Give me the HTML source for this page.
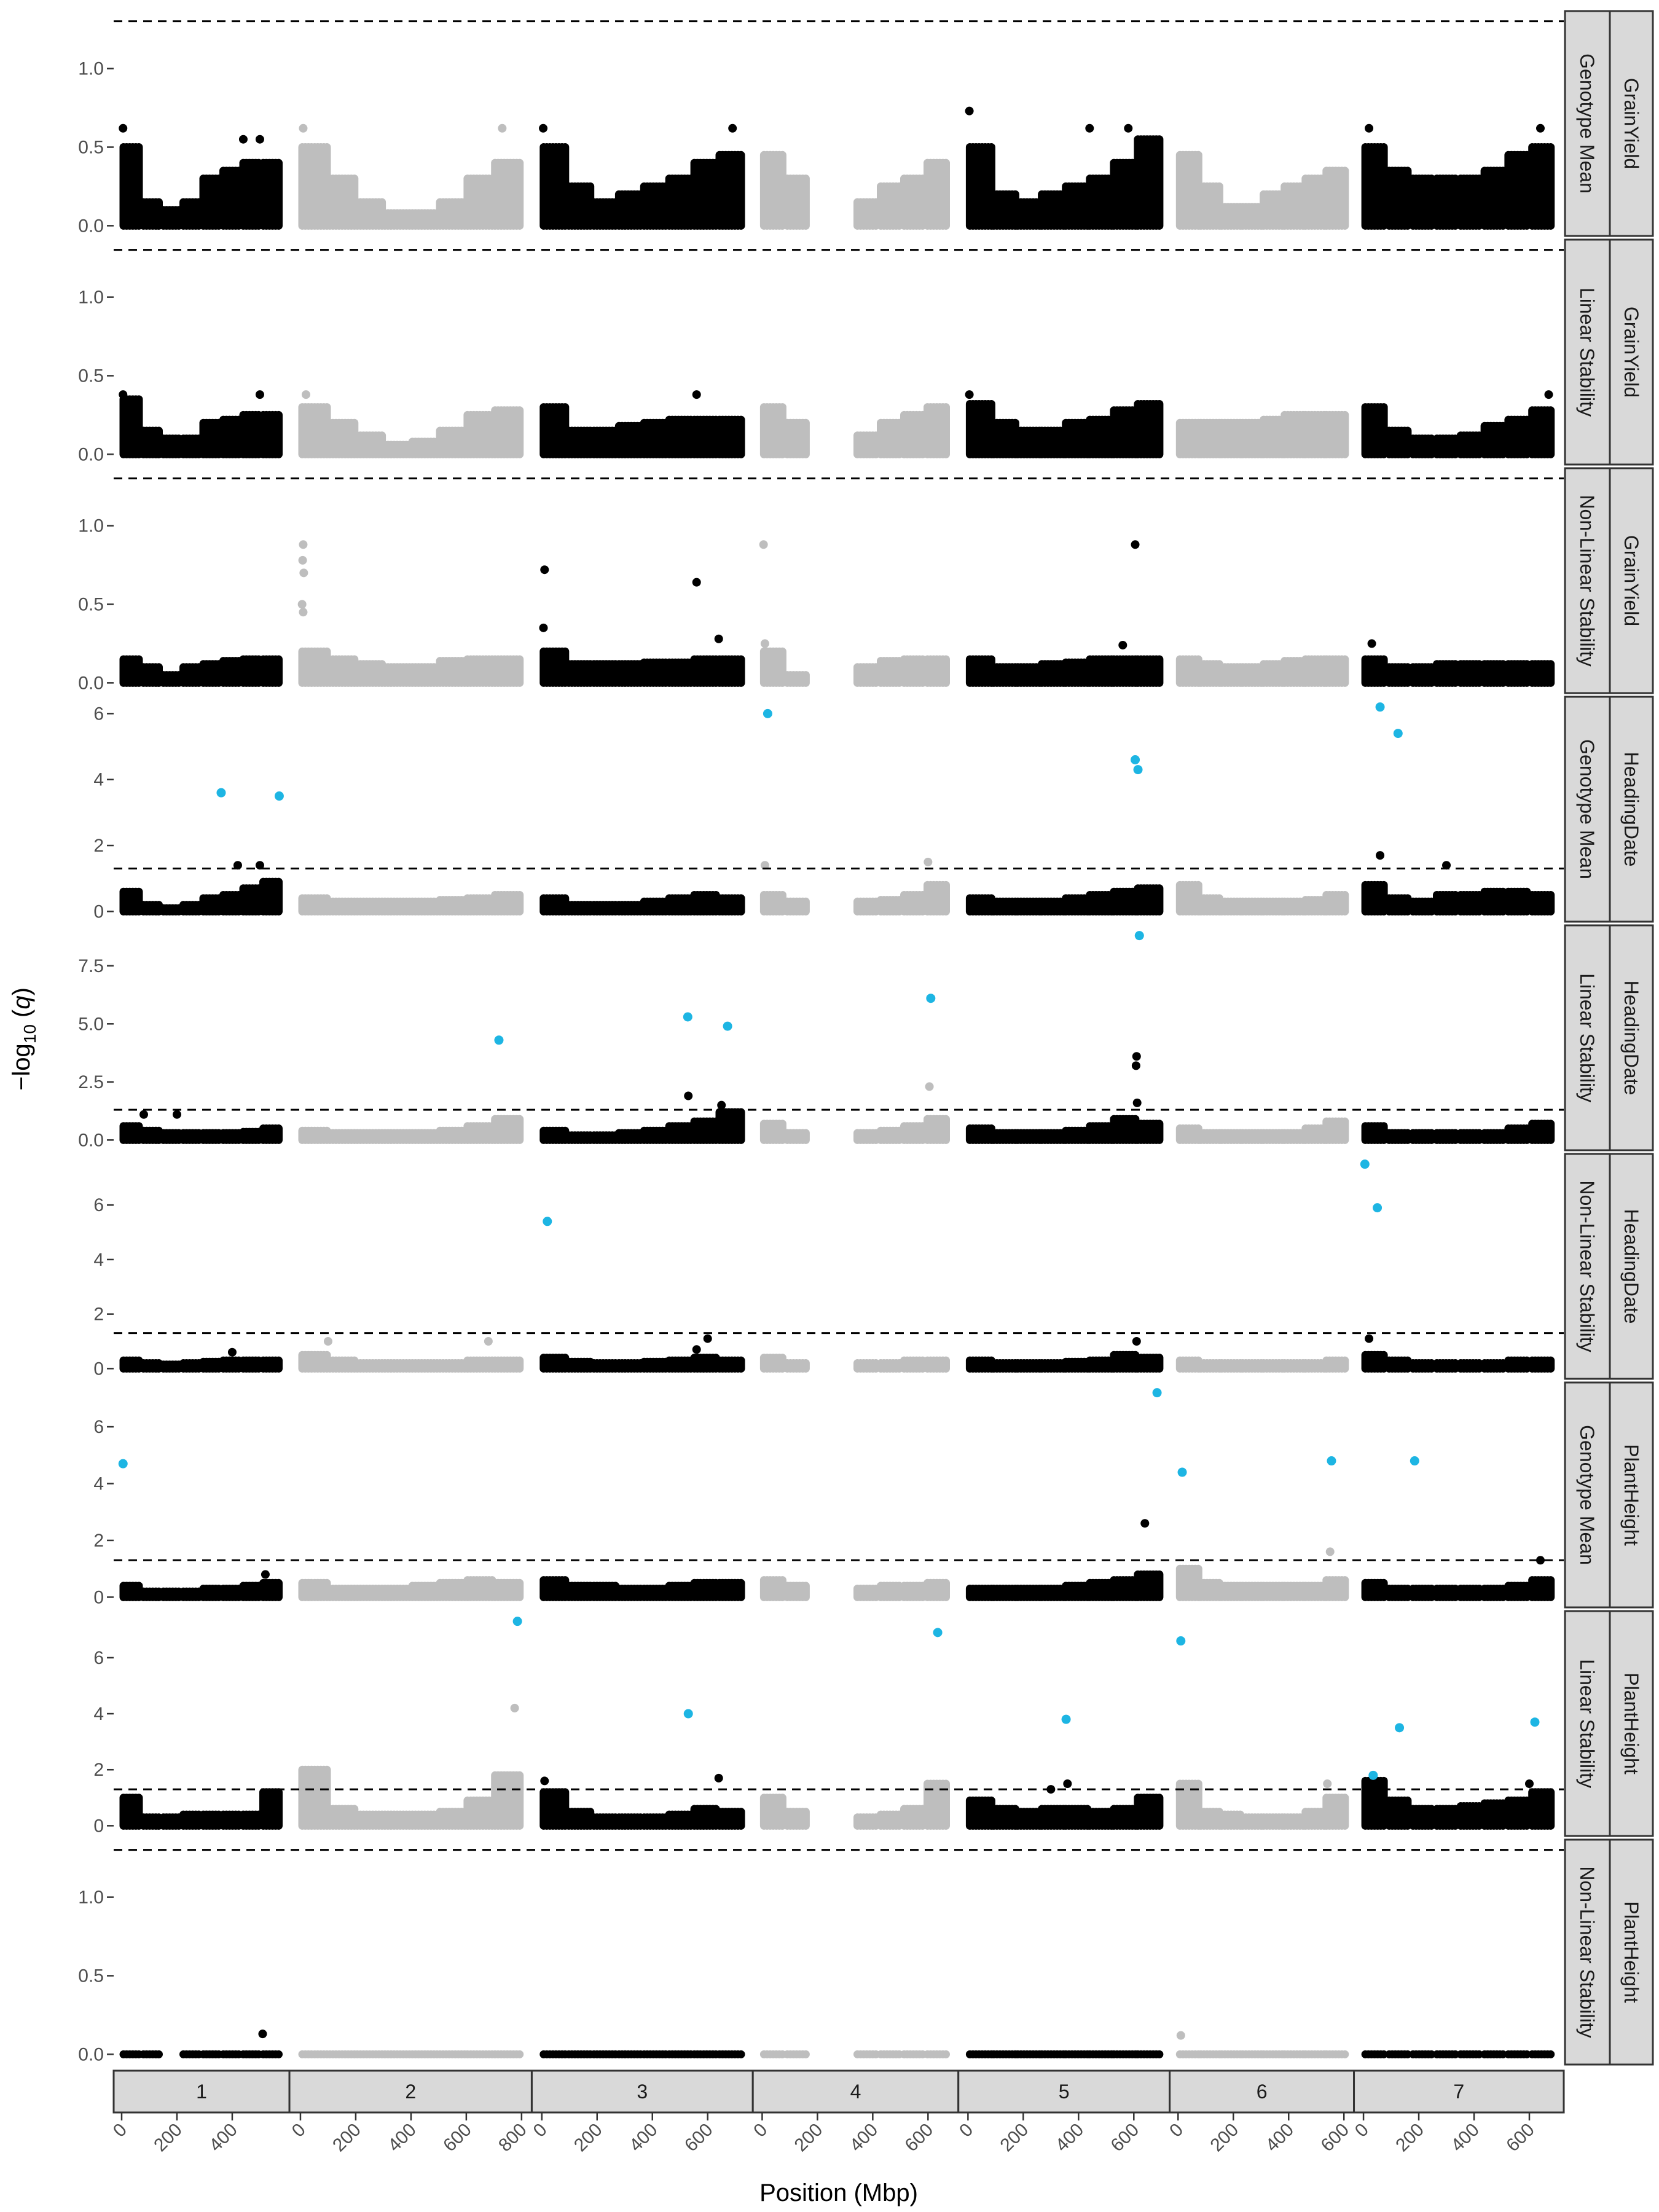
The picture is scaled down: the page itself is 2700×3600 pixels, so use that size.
<!DOCTYPE html>
<html><head><meta charset="utf-8">
<style>
html,body{margin:0;padding:0;background:#fff;}
svg{display:block;font-family:"Liberation Sans",Arial,sans-serif;}
</style></head>
<body>
<svg id="chart" width="2700" height="3600" viewBox="0 0 2700 3600" xmlns="http://www.w3.org/2000/svg">
<text x="1365" y="3582" font-size="40" fill="#000" text-anchor="middle">Position (Mbp)</text>
<text transform="translate(48,1691) rotate(-90)" font-size="40" fill="#000" text-anchor="middle">−log<tspan font-size="28" dy="10">10</tspan><tspan dy="-10"> (</tspan><tspan font-style="italic">q</tspan>)</text>
</svg>
<script>
// ---- data ----
const chrNames = ['1','2','3','4','5','6','7'];
const chrLen = [578, 797, 727, 676, 695, 606, 690];
const chrTicks = [[0,200,400],[0,200,400,600,800],[0,200,400,600],[0,200,400,600],[0,200,400,600],[0,200,400,600],[0,200,400,600]];
const threshold = 1.301;
const traitLabels = ['GrainYield','GrainYield','GrainYield','HeadingDate','HeadingDate','HeadingDate','PlantHeight','PlantHeight','PlantHeight'];
const modelLabels = ['Genotype Mean','Linear Stability','Non-Linear Stability','Genotype Mean','Linear Stability','Non-Linear Stability','Genotype Mean','Linear Stability','Non-Linear Stability'];
const yTicks1 = [0, 0.5, 1.0];
const yTicksHD1 = [0, 2, 4, 6];
const yTicksHD2 = [0, 2.5, 5, 7.5];
const yTickLabels1 = ['0.0','0.5','1.0'];
const yTickLabelsHD1 = ['0','2','4','6'];
const yTickLabelsHD2 = ['0.0','2.5','5.0','7.5'];

// envelopes: per chromosome, 8 bins, -1 = no markers
const envGYGM = [[0.5,0.15,0.1,0.15,0.3,0.35,0.4,0.4],[0.5,0.3,0.15,0.08,0.08,0.15,0.3,0.4],[0.5,0.25,0.15,0.2,0.25,0.3,0.4,0.45],[0.45,0.3,-1,-1,0.15,0.25,0.3,0.4],[0.5,0.2,0.15,0.2,0.25,0.3,0.4,0.55],[0.45,0.25,0.12,0.12,0.2,0.25,0.3,0.35],[0.5,0.35,0.3,0.3,0.3,0.35,0.45,0.5]];
const envGYLS = [[0.35,0.15,0.1,0.1,0.2,0.22,0.25,0.25],[0.3,0.2,0.12,0.06,0.08,0.15,0.25,0.28],[0.3,0.15,0.15,0.18,0.2,0.22,0.22,0.22],[0.3,0.2,-1,-1,0.12,0.2,0.25,0.3],[0.32,0.2,0.15,0.15,0.2,0.22,0.28,0.32],[0.2,0.2,0.2,0.2,0.22,0.25,0.25,0.25],[0.3,0.15,0.1,0.1,0.12,0.18,0.22,0.28]];
const envGYNL = [[0.15,0.1,0.05,0.1,0.12,0.14,0.15,0.15],[0.2,0.15,0.12,0.1,0.1,0.14,0.15,0.15],[0.2,0.12,0.12,0.12,0.13,0.13,0.15,0.15],[0.2,0.05,-1,-1,0.1,0.14,0.15,0.15],[0.15,0.1,0.1,0.12,0.13,0.15,0.15,0.15],[0.15,0.12,0.1,0.1,0.12,0.14,0.15,0.15],[0.15,0.1,0.1,0.12,0.12,0.12,0.12,0.12]];
const envHDGM = [[0.6,0.2,0.1,0.2,0.4,0.5,0.7,0.9],[0.4,0.3,0.3,0.3,0.3,0.35,0.4,0.5],[0.4,0.2,0.2,0.2,0.3,0.4,0.5,0.4],[0.5,0.3,-1,-1,0.3,0.35,0.5,0.8],[0.4,0.3,0.3,0.3,0.4,0.5,0.6,0.7],[0.8,0.4,0.3,0.3,0.3,0.3,0.35,0.5],[0.8,0.4,0.3,0.5,0.5,0.6,0.6,0.5]];
const envHDLS = [[0.6,0.4,0.3,0.3,0.3,0.3,0.35,0.5],[0.4,0.3,0.3,0.3,0.3,0.4,0.6,0.9],[0.4,0.2,0.2,0.3,0.4,0.6,0.8,1.2],[0.7,0.3,-1,-1,0.3,0.4,0.6,0.9],[0.5,0.3,0.3,0.3,0.4,0.6,0.9,0.7],[0.5,0.3,0.3,0.3,0.3,0.3,0.5,0.8],[0.6,0.3,0.3,0.3,0.3,0.3,0.5,0.7]];
const envHDNL = [[0.3,0.2,0.15,0.2,0.25,0.3,0.3,0.3],[0.5,0.3,0.2,0.2,0.2,0.2,0.3,0.3],[0.4,0.25,0.2,0.2,0.25,0.3,0.4,0.3],[0.4,0.2,-1,-1,0.2,0.2,0.3,0.3],[0.3,0.2,0.2,0.2,0.25,0.3,0.5,0.4],[0.3,0.2,0.2,0.2,0.2,0.2,0.2,0.3],[0.5,0.3,0.2,0.2,0.2,0.2,0.3,0.3]];
const envPHGM = [[0.4,0.2,0.2,0.2,0.3,0.3,0.4,0.5],[0.5,0.3,0.3,0.3,0.4,0.5,0.6,0.5],[0.6,0.4,0.4,0.3,0.3,0.4,0.5,0.5],[0.6,0.4,-1,-1,0.3,0.4,0.4,0.5],[0.3,0.3,0.3,0.3,0.4,0.5,0.6,0.8],[1.0,0.5,0.4,0.4,0.4,0.4,0.4,0.6],[0.5,0.3,0.3,0.3,0.3,0.3,0.4,0.6]];
const envPHLS = [[1.0,0.3,0.3,0.4,0.4,0.4,0.4,1.2],[2.0,0.6,0.4,0.4,0.4,0.5,0.9,1.8],[1.2,0.5,0.3,0.3,0.3,0.4,0.6,0.5],[1.0,0.5,-1,-1,0.3,0.4,0.6,1.5],[0.9,0.6,0.5,0.6,0.6,0.5,0.6,1.0],[1.5,0.5,0.4,0.3,0.3,0.3,0.5,1.0],[1.6,0.9,0.6,0.6,0.7,0.8,0.9,1.2]];
const envPHNL = [[0,0,-1,0,0,0,0,0],[0,0,0,0,0,0,0,0],[0,0,0,0,0,0,0,0],[0,0,-1,-1,0,0,0,0],[0,0,0,0,0,0,0,0],[0,0,0,0,0,0,0,0],[0,0,0,0,0,0,0,0]];

// outliers: [chrIndex, position Mbp, value]
const outGYGM = [[0,5,0.62],[0,440,0.55],[0,500,0.55],[1,10,0.62],[1,730,0.62],[2,5,0.62],[2,690,0.62],[4,5,0.73],[4,440,0.62],[4,580,0.62],[6,20,0.62],[6,640,0.62]];
const outGYLS = [[0,5,0.38],[0,500,0.38],[1,20,0.38],[2,560,0.38],[4,5,0.38],[6,670,0.38]];
const outGYNL = [[1,10,0.88],[1,8,0.78],[1,12,0.7],[1,6,0.5],[1,10,0.45],[2,10,0.72],[2,6,0.35],[2,560,0.64],[2,640,0.28],[3,5,0.88],[3,10,0.25],[4,605,0.88],[4,560,0.24],[6,30,0.25]];
const outHDGM = [[0,420,1.4],[0,500,1.4],[3,10,1.4],[3,600,1.5],[6,60,1.7],[6,300,1.4]];
const outHDLS = [[0,80,1.1],[0,200,1.1],[2,530,1.9],[2,650,1.5],[3,605,2.3],[4,610,3.6],[4,608,3.2],[4,612,1.6]];
const outHDNL = [[0,400,0.6],[1,100,1.0],[1,680,1.0],[2,600,1.1],[2,560,0.7],[4,610,1.0],[6,20,1.1]];
const outPHGM = [[0,520,0.8],[4,640,2.6],[5,550,1.6],[6,640,1.3]];
const outPHLS = [[1,775,4.2],[2,10,1.6],[2,640,1.7],[4,360,1.5],[4,300,1.3],[5,540,1.5],[6,600,1.5]];
const outPHNL = [[0,510,0.13],[5,10,0.12]];

// significant markers (blue): [chrIndex, position Mbp, value]
const sigGYGM = [];
const sigGYLS = [];
const sigGYNL = [];
const sigHDGM = [[0,360,3.6],[0,570,3.5],[3,20,6.0],[4,605,4.6],[4,615,4.3],[6,60,6.2],[6,125,5.4]];
const sigHDLS = [[1,718,4.3],[2,528,5.3],[2,672,4.9],[3,610,6.1],[4,620,8.8]];
const sigHDNL = [[2,20,5.4],[6,5,7.5],[6,50,5.9]];
const sigPHGM = [[0,5,4.7],[4,684,7.2],[5,15,4.4],[5,555,4.8],[6,185,4.8]];
const sigPHLS = [[1,785,7.3],[2,530,4.0],[3,635,6.9],[4,355,3.8],[5,10,6.6],[6,35,1.8],[6,130,3.5],[6,620,3.7]];
const sigPHNL = [];

const panelEnv = [envGYGM, envGYLS, envGYNL, envHDGM, envHDLS, envHDNL, envPHGM, envPHLS, envPHNL];
const panelOut = [outGYGM, outGYLS, outGYNL, outHDGM, outHDLS, outHDNL, outPHGM, outPHLS, outPHNL];
const panelSig = [sigGYGM, sigGYLS, sigGYNL, sigHDGM, sigHDLS, sigHDNL, sigPHGM, sigPHLS, sigPHNL];
const panelTicks = [yTicks1, yTicks1, yTicks1, yTicksHD1, yTicksHD2, yTicksHD1, yTicksHD1, yTicksHD1, yTicks1];
const panelTickLabels = [yTickLabels1, yTickLabels1, yTickLabels1, yTickLabelsHD1, yTickLabelsHD2, yTickLabelsHD1, yTickLabelsHD1, yTickLabelsHD1, yTickLabels1];

// ---- layout ----
const NS = 'http://www.w3.org/2000/svg';
const svg = document.getElementById('chart');
const plotL = 185, plotR = 2545, top0 = 18, pitch = 372, ph = 366;
const totalSpan = chrLen.reduce((a, l) => a + 1.1 * l, 0);
const kx = (plotR - plotL) / totalSpan;
const chrX0 = [];
let acc = plotL;
chrLen.forEach((l) => { chrX0.push(acc); acc += 1.1 * l * kx; });
function xPos(c, p) { return chrX0[c] + (0.05 * chrLen[c] + p) * kx; }
function yScaleFor(i) {
  let mx = threshold;
  panelEnv[i].forEach(r => r.forEach(v => { if (v > mx) mx = v; }));
  panelOut[i].forEach(o => { if (o[2] > mx) mx = o[2]; });
  panelSig[i].forEach(o => { if (o[2] > mx) mx = o[2]; });
  const lo = -0.05 * mx, hi = 1.05 * mx;
  const t = top0 + i * pitch;
  return v => t + ph - (v - lo) / (hi - lo) * ph;
}
function mk(tag, attrs, parent) {
  const e = document.createElementNS(NS, tag);
  for (const k in attrs) e.setAttribute(k, attrs[k]);
  (parent || svg).appendChild(e);
  return e;
}
const colors = ['#000000', '#BEBEBE'];
const blue = '#1DB5E3';

for (let i = 0; i < 9; i++) {
  const y = yScaleFor(i);
  const top = top0 + i * pitch;
  const g = mk('g', {});
  
  
  panelTicks[i].forEach((tv, j) => {
    const tl = mk('line', {x1: plotL - 11, x2: plotL, y1: y(tv), y2: y(tv), stroke: '#333', 'stroke-width': 2.5}, g);
    
    
    const tx = mk('text', {x: plotL - 16, y: y(tv) + 10, 'font-size': 30, fill: '#4D4D4D', 'text-anchor': 'end'}, g);
    
    
    tx.textContent = panelTickLabels[i][j];
  });
  const env = panelEnv[i];
  for (let c = 0; c < 7; c++) {
    const col = colors[c % 2];
    const L = chrLen[c];
    let d = '';
    for (let b = 0; b < 8; b++) {
      const h = env[c][b];
      if (h < 0) continue;
      const xa = xPos(c, b * L / 8), xb = xPos(c, (b + 1) * L / 8);
      for (let x = xa + 3; x <= xb - 1; x += 5) {
        d += 'M' + x.toFixed(1) + ' ' + y(0).toFixed(1) + 'V' + y(h).toFixed(1);
      }
    }
    const p = mk('path', {d: d, stroke: col, 'stroke-width': 13, 'stroke-linecap': 'round', fill: 'none'}, g);
    
    
  }
  panelOut[i].forEach(o => {
    const ci = mk('circle', {cx: xPos(o[0], o[1]), cy: y(o[2]), r: 7, fill: colors[o[0] % 2]}, g);
    
    
  });
  panelSig[i].forEach(o => {
    const ci = mk('circle', {cx: xPos(o[0], o[1]), cy: y(o[2]), r: 7.5, fill: blue}, g);
    
    
  });
  const th = mk('line', {x1: plotL, x2: plotR, y1: y(threshold), y2: y(threshold), stroke: '#000', 'stroke-width': 3, 'stroke-dasharray': '14 10'}, g);
  
  
  const s1 = mk('rect', {x: plotR + 2, y: top, width: 73, height: ph, fill: '#D9D9D9', stroke: '#333', 'stroke-width': 3}, g);
  
  
  const s2 = mk('rect', {x: plotR + 75, y: top, width: 70, height: ph, fill: '#D9D9D9', stroke: '#333', 'stroke-width': 3}, g);
  
  
  const t1 = mk('text', {transform: 'translate(' + (plotR + 27) + ',' + (top + ph / 2) + ') rotate(90)', 'font-size': 32, fill: '#1A1A1A', 'text-anchor': 'middle'}, g);
  
  
  t1.textContent = modelLabels[i];
  const t2 = mk('text', {transform: 'translate(' + (plotR + 99) + ',' + (top + ph / 2) + ') rotate(90)', 'font-size': 32, fill: '#1A1A1A', 'text-anchor': 'middle'}, g);
  
  
  t2.textContent = traitLabels[i];
}

const sy = 3370, sh = 68;
for (let c = 0; c < 7; c++) {
  const x0 = chrX0[c], w = 1.1 * chrLen[c] * kx;
  const r = mk('rect', {x: x0, y: sy, width: w, height: sh, fill: '#D9D9D9', stroke: '#333', 'stroke-width': 3});
  
  
  const t = mk('text', {x: x0 + w / 2, y: sy + 45, 'font-size': 32, fill: '#1A1A1A', 'text-anchor': 'middle'});
  
  
  t.textContent = chrNames[c];
  chrTicks[c].forEach(tv => {
    const x = xPos(c, tv);
    const tl = mk('line', {x1: x, x2: x, y1: sy + sh, y2: sy + sh + 13, stroke: '#333', 'stroke-width': 2.5});
    
    
    const tx = mk('text', {transform: 'translate(' + (x + 10) + ',' + (sy + sh + 30) + ') rotate(-45)', 'font-size': 30, fill: '#4D4D4D', 'text-anchor': 'end'});
    
    
    tx.textContent = String(tv);
  });
}
</script>
</body></html>
